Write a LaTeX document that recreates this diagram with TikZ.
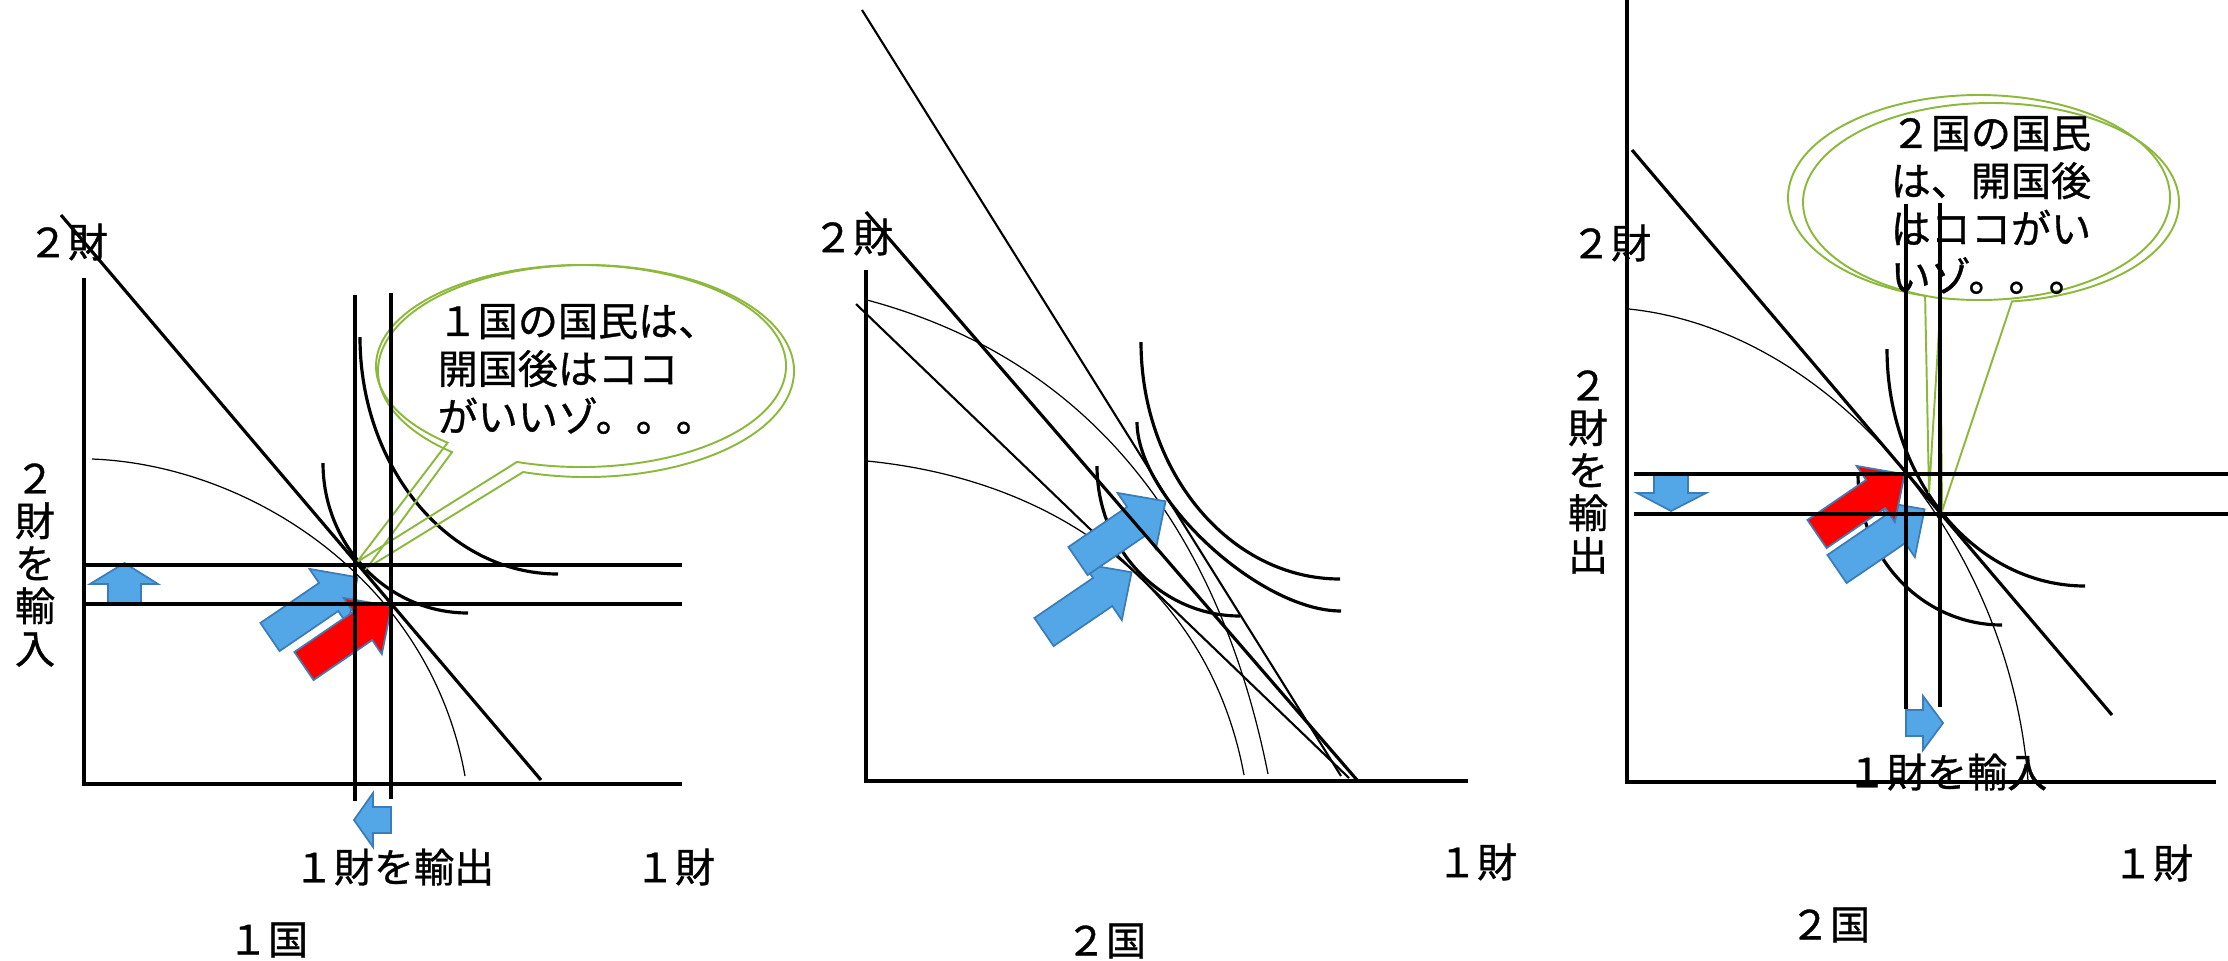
\documentclass[tikz,border=0pt]{standalone}
\usepackage{fontspec}
\setmainfont{Noto Sans CJK JP}[FakeBold=0.8]
\usetikzlibrary{calc}
\definecolor{arrowblue}{RGB}{83,167,230}
\definecolor{arrowedge}{RGB}{60,125,185}
\definecolor{bubblegreen}{RGB}{140,185,60}
\newcommand{\blockarrowat}[3]{%
  \begin{scope}[shift={#2}, rotate=#3]
    \path[#1] (0,-17) -- (71,-17) -- (71,-34) -- (106,0) -- (71,34) -- (71,17) -- (0,17) -- cycle;
  \end{scope}}
\begin{document}
\begin{tikzpicture}[x=0.01cm, y=-0.01cm,
  thickline/.style={line width=0.9pt},
  thinline/.style={line width=0.35pt},
  midline/.style={line width=0.6pt},
  bubble/.style={draw=bubblegreen, line width=0.55pt},
  lbl/.style={font=\fontsize{11.4}{13.6}\selectfont, inner sep=0pt},
  vlbl/.style={font=\fontsize{11.4}{12.1}\selectfont, inner sep=0pt, align=center},
  blockblue/.style={fill=arrowblue, draw=arrowedge, line width=0.5pt},
  blockred/.style={fill=red, draw=arrowedge, line width=0.5pt}]
\useasboundingbox (0,0) rectangle (2228,960);

% ================= Panel 1 =================
\draw[thinline] (92,459) .. controls (250,465) and (430,580) .. (465,776);
\draw[thickline] (360,337) arc[start angle=180, end angle=90, x radius=198, y radius=237];
\draw[thickline] (323,463) arc[start angle=180, end angle=90, x radius=145, y radius=150];
% callout (double outline)
\draw[bubble] (581,366) ++(108.2:205 and 101) arc[start angle=108.2, end angle=-229.4, x radius=205, y radius=101] -- (357,562) -- cycle;
\draw[bubble] (586,371) ++(107.6:208 and 106) arc[start angle=107.6, end angle=-229.9, x radius=208, y radius=106] -- (367,568) -- cycle;
\node[lbl, anchor=west, align=left] (bubbleone) at (437,369) {１国の国民は、\\開国後はココ\\がいいゾ。。。};
% block arrows
\blockarrowat{blockblue}{(270,637)}{34.3}
\blockarrowat{blockred}{(304,666)}{34.3}
\path[blockblue] (108,603) -- (108,584) -- (90,584) -- (124.5,563) -- (158,584) -- (141,584) -- (141,603) -- cycle;
\path[blockblue] (391,807) -- (373,807) -- (373,793) -- (354,820) -- (373,847) -- (373,833) -- (391,833) -- cycle;
% lines
\draw[thickline] (84,278) -- (84,784) -- (682,784);
\draw[thickline] (84,565) -- (682,565);
\draw[thickline] (84,604) -- (682,604);
\draw[thickline] (355,295) -- (355,801);
\draw[thickline] (391,293) -- (391,799);
\draw[thickline] (61,215) -- (541,780);
% labels
\node[lbl] (goodtwoA) at (68,242) {２財};
\node[vlbl] (importtwoA) at (35,565) {２\\財\\を\\輸\\入};
\node[lbl] (exportoneA) at (394,867) {１財を輸出};
\node[lbl] (goodoneA) at (675,867) {１財};
\node[lbl] (countryA) at (268,940) {１国};

% ================= Panel 2 =================
\draw[thinline] (867,300) .. controls (1087,359) and (1218,524) .. (1268,774);
\draw[thinline] (867,461) .. controls (1060,480) and (1210,590) .. (1244,775);
\draw[midline] (862,10) -- (1341,776);
\draw[midline] (856,304) -- (1349,778);
\draw[thickline] (1141,342) arc[start angle=180, end angle=90, x radius=199, y radius=237];
\draw[thickline] (1137,422) .. controls (1137,497.6) and (1259.4,611) .. (1341,611);
\draw[thickline] (1097,466) arc[start angle=180, end angle=90, x radius=143, y radius=150];
\blockarrowat{blockblue}{(1044,632)}{34.3}
\blockarrowat{blockblue}{(1078,561)}{34.3}
\draw[thickline] (866,270) -- (866,781) -- (1468,781);
\draw[thickline] (866,212) -- (1357,780);
\node[lbl] (goodtwoB) at (853,237) {２財};
\node[lbl] (goodoneB) at (1477,862) {１財};
\node[lbl] (countryB) at (1106,941) {２国};

% ================= Panel 3 =================
\draw[thinline] (1629,309) .. controls (1830,330) and (2010,540) .. (2028,781);
\draw[thickline] (1887,349) arc[start angle=180, end angle=90, x radius=198, y radius=237];
\draw[thickline] (1858,474) arc[start angle=180, end angle=90, x radius=144, y radius=151];
\draw[bubble] (1979,197.5) ++(101.5:191 and 102.5) arc[start angle=101.5, end angle=-253.6, x radius=191, y radius=102.5] -- (1929,493) -- cycle;
\draw[bubble] (1991,202.5) ++(83.6:188 and 99.5) arc[start angle=83.6, end angle=-254.3, x radius=188, y radius=99.5] -- (1942,511) -- cycle;
\node[lbl, anchor=west, align=left] (bubbletwo) at (1890,205) {２国の国民\\は、開国後\\はココがい\\いゾ。。。};
\blockarrowat{blockblue}{(1837,569)}{34.3}
\blockarrowat{blockred}{(1817,534)}{34.3}
\path[blockblue] (1654,473) -- (1688,473) -- (1688,493) -- (1706,493) -- (1671,511) -- (1637,493) -- (1654,493) -- cycle;
\path[blockblue] (1906,710) -- (1923,710) -- (1923,696) -- (1943,723) -- (1923,750) -- (1923,736) -- (1906,736) -- cycle;
\draw[thickline] (1627,0) -- (1627,782) -- (2216,782);
\draw[thickline] (1634,474) -- (2228,474);
\draw[thickline] (1634,514) -- (2228,514);
\draw[thickline] (1906,204) -- (1906,709);
\draw[thickline] (1940,203) -- (1940,707);
\draw[thickline] (1632,150) -- (2112,715);
\node[lbl] (goodtwoC) at (1611,243) {２財};
\node[vlbl] (exporttwoC) at (1588,472) {２\\財\\を\\輸\\出};
\node[lbl] (importoneC) at (1947,772) {１財を輸入};
\node[lbl] (goodoneC) at (2153,863) {１財};
\node[lbl] (countryC) at (1830,925) {２国};
\end{tikzpicture}
\end{document}
